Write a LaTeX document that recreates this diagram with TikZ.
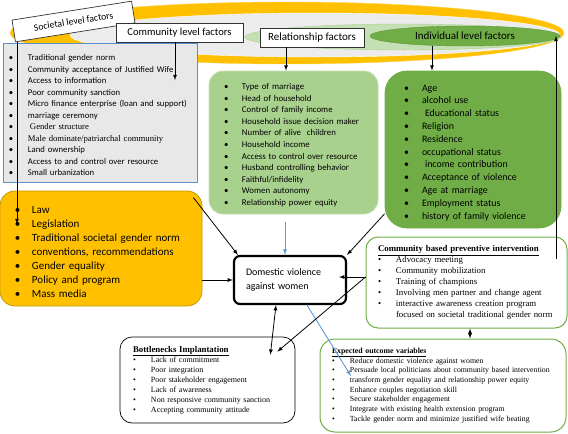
\documentclass[tikz,border=0pt]{standalone}
\usepackage{fontspec}
\setmainfont{Carlito}
\newfontfamily\tnr{Liberation Serif}
\usepackage{tikz}
\usetikzlibrary{arrows,shapes.geometric}

\definecolor{gelb}{HTML}{FFC000}
\definecolor{gelbrand}{HTML}{FFD34F}
\definecolor{gelbdunkel}{HTML}{C49A00}
\definecolor{grau}{HTML}{E8E8E8}
\definecolor{grauell}{HTML}{ECECEC}
\definecolor{blau}{HTML}{5B8FC9}
\definecolor{blaulinie}{HTML}{5B9BD5}
\definecolor{hellgruen}{HTML}{A9D18E}
\definecolor{hellgruenrand}{HTML}{C5E0B4}
\definecolor{gruen}{HTML}{70AD47}
\definecolor{gruenrand}{HTML}{5E9A38}

\newcommand\pkt[2][18pt]{\par\noindent\makebox[#1][l]{\textbullet}\mbox{#2}}

\begin{document}
\begin{tikzpicture}[x=1pt,y=-1pt,
    >=latex,
    kasten/.style={
      rectangle,
      rounded corners=#1,
      align=left,
      inner ysep=0pt},
    kasten/.default=0pt,
    schild/.style={
      rectangle,
      draw=black!80,
      fill=white,
      line width=0.7pt,
      inner sep=0pt},
    pfeil/.style={->, line width=0.8pt},
    blaupfeil/.style={->, draw=blaulinie, line width=0.9pt}
    ]

  \useasboundingbox (0,0) rectangle (568,434);

  % ebenen
  \fill[gelb, draw=gelbrand] (287,33) ellipse [x radius=277pt, y radius=31pt];
  \fill[grauell, draw=white] (315,35) ellipse [x radius=245pt, y radius=22pt];
  \fill[hellgruenrand, draw=hellgruen] (403,37) ellipse [x radius=158pt, y radius=13pt];
  \node at (465,36) (individuum) [ellipse, fill=gruen, draw=gruenrand, minimum width=190pt, minimum height=20pt, inner sep=0pt, font=\fontsize{11}{12}\selectfont] {Individual level factors};

  \node at (73.5,21.5) (gesellschaft) [schild, rotate=9, minimum width=121pt, minimum height=22pt, font=\fontsize{9.7}{11}\selectfont] {Societal level factors};
  \node at (179.5,32.5) (gemeinde) [schild, minimum width=127pt, minimum height=19pt, font=\fontsize{10.6}{12}\selectfont] {Community level factors};
  \node at (312,37.5) (beziehung) [schild, minimum width=104pt, minimum height=19pt, font=\fontsize{11}{12}\selectfont] {Relationship factors};

  % faktoren
  \node at (100,112.5) (gemeindekasten) [kasten, fill=grau, draw=blau, line width=0.8pt, text width=182pt, inner xsep=6pt, minimum height=139pt, font=\fontsize{8.7}{11.5}\selectfont] {
    \pkt[19pt]{Traditional gender norm}
    \pkt[19pt]{Community acceptance of Justified Wife}
    \pkt[19pt]{Access to information}
    \pkt[19pt]{Poor community sanction}
    \pkt[19pt]{Micro finance enterprise (loan and support)}
    \pkt[19pt]{marriage ceremony}
    \pkt[19pt]{\tnr\hspace{2pt}Gender structure}
    \pkt[19pt]{\tnr Male dominate/patriarchal community}
    \pkt[19pt]{Land ownership}
    \pkt[19pt]{Access to and control over resource}
    \pkt[19pt]{Small urbanization}};
\node at (101,248.5) (gesellschaftskasten) [kasten=15pt, fill=gelb, draw=gelbdunkel, line width=0.8pt, text width=172pt, inner xsep=15pt, minimum height=115pt, font=\fontsize{11}{14}\selectfont] {
    \pkt[17pt]{Law}
    \pkt[17pt]{Legislation}
    \pkt[17pt]{Traditional societal gender norm}
    \pkt[17pt]{conventions, recommendations}
    \pkt[17pt]{Gender equality}
    \pkt[17pt]{Policy and program}
    \pkt[17pt]{Mass media}};
\node at (293.5,142.5) (beziehungskasten) [kasten=14pt, fill=hellgruen, draw=hellgruenrand, line width=0.8pt, text width=139pt, inner xsep=15pt, minimum height=143pt, font=\fontsize{8.8}{11.6}\selectfont] {
    \pkt{Type of marriage}
    \pkt{Head of household}
    \pkt{Control of family income}
    \pkt{Household issue decision maker}
    \pkt{Number of alive\ \ children}
    \pkt{Household income}
    \pkt{Access to control over resource}
    \pkt{Husband controlling behavior}
    \pkt{Faithful/infidelity}
    \pkt{Women autonomy}
    \pkt{Relationship power equity}};
\node at (473,149.5) (individualkasten) [kasten=22pt, fill=gruen, draw=gruen, line width=0.8pt, text width=138pt, inner xsep=19pt, minimum height=157pt, font=\fontsize{9.9}{12.8}\selectfont] {
    \pkt{Age}
    \pkt{alcohol use}
    \pkt{\hspace{3pt}Educational status}
    \pkt{Religion}
    \pkt{Residence}
    \pkt{occupational status}
    \pkt{\hspace{3pt}income contribution}
    \pkt{Acceptance of violence}
    \pkt{Age at marriage}
    \pkt{Employment status}
    \pkt{history of family violence}};

  % gewalt und massnahmen
  \node at (290,280) (gewalt) [kasten=6pt, fill=white, draw=black, line width=2.2pt, text width=88pt, inner xsep=12pt, minimum height=48pt, font=\fontsize{10}{14}\selectfont] {Domestic violence\\against women};
  \node at (466.5,282.5) (intervention) [kasten=12pt, fill=white, draw=gruen, line width=1pt, text width=177pt, inner xsep=12pt, minimum height=91pt, font=\tnr\fontsize{8.8}{11}\selectfont] {
    \underline{\textbf{Community based preventive intervention}}
    \pkt{Advocacy meeting}
    \pkt{Community mobilization}
    \pkt{Training of champions}
    \pkt{Involving men partner and change agent}
    \pkt{\makebox[159pt][s]{interactive awareness creation program}}
    \par\noindent\hspace*{18pt}focused on societal traditional gender norm};
\node at (207.5,380) (engpass) [kasten=12pt, fill=white, draw=black, line width=0.7pt, text width=149pt, inner xsep=13pt, minimum height=86pt, font=\tnr\fontsize{8}{10}\selectfont] {
    {\fontsize{8.8}{10}\selectfont\underline{\textbf{Bottlenecks Implantation}}}
    \pkt{Lack of commitment}
    \pkt{Poor integration}
    \pkt{Poor stakeholder engagement}
    \pkt{Lack of awareness}
    \pkt{Non responsive community sanction}
    \pkt{Accepting community attitude}};
\node at (443,385.5) (ergebnis) [kasten=15pt, fill=white, draw=gruen, line width=1pt, text width=222pt, inner xsep=12pt, minimum height=93pt, font=\tnr\fontsize{7.8}{9.7}\selectfont] {
    \underline{\textbf{Expected outcome variables}}
    \pkt[18pt]{Reduce domestic violence against women}
    \pkt[18pt]{Persuade local politicians about community based intervention}
    \pkt[18pt]{transform gender equality and relationship power equity}
    \pkt[18pt]{Enhance couples negotiation skill}
    \pkt[18pt]{Secure stakeholder engagement}
    \pkt[18pt]{Integrate with existing health extension program}
    \pkt[18pt]{Tackle gender norm and minimize justified wife beating}};

  % pfeile
  \coordinate (legis) at (17,224);
  \coordinate (gemeindeziel) at (175,80);
  \coordinate (rueckweg) at (556,259);
  \coordinate (blauziel) at (351,376);

  \draw[pfeil] (gesellschaft.south west -| legis) -- (legis);
  \draw[pfeil] (gemeinde.south -| gemeindeziel) -- (gemeindeziel);
  \draw[pfeil] (beziehung.south -| 286,0) -- (beziehungskasten.north -| 286,0);
  \draw[pfeil] (individuum.south -| 432,0) -- (individualkasten.north -| 432,0);
  \draw[pfeil] (rueckweg) -- (individuum.east -| rueckweg);

  \draw[blaupfeil] (beziehungskasten.south -| 285,0) ++(0,8) -- (gewalt.north -| 285,0);
  \draw[blaupfeil] (gewalt.south -| 307,0) -- (blauziel);

  \draw[pfeil] ([xshift=-9pt,yshift=-7pt]gesellschaftskasten.north east) -- ([xshift=5pt]gewalt.north west);
  \draw[pfeil] (gesellschaftskasten.east |- gewalt.west) -- (gewalt.west);
  \draw[pfeil] (individualkasten.216) -- (gewalt.north east);
  \draw[pfeil] (intervention.west |- 0,277) -- ([xshift=-8pt,yshift=3pt]gewalt.east);
  \draw[pfeil] (intervention.west |- 0,277) -- ([xshift=-18pt,yshift=-15pt]engpass.north east);
  \draw[pfeil, <->] ([xshift=-14pt]gewalt.south) -- ([xshift=-25pt,yshift=-18pt]engpass.north east);
  \draw[pfeil, <->] (intervention.south -| 470,0) -- (ergebnis.north -| 470,0);

\end{tikzpicture}
\end{document}
